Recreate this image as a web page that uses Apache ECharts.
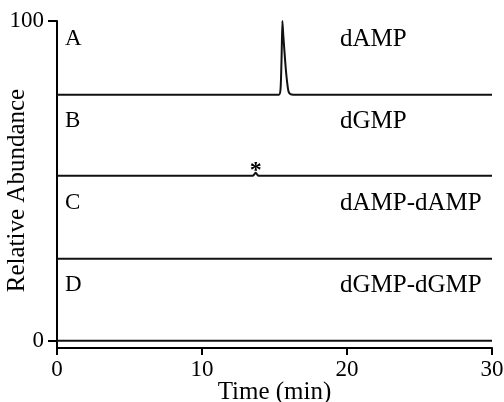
<!DOCTYPE html>
<html>
<head>
<meta charset="utf-8">
<script src="https://cdn.jsdelivr.net/npm/echarts@6/dist/echarts.min.js"></script>
<style>
  html, body { margin: 0; padding: 0; background: #fff; }
  #chart { width: 504px; height: 402px; }
</style>
</head>
<body>
<div id="chart"></div>
<script>
// trace data (time in min, signal above each trace's own baseline)
const timeA = [0, 15.3, 15.42, 15.49, 15.545, 15.6, 15.68, 15.78, 15.88, 15.97, 16.1, 16.3, 30];
const signalA = [0, 0, 2, 12, 23.1, 19, 14, 8, 3.6, 1, 0.2, 0, 0];
const timeB = [0, 13.5, 13.62, 13.7, 13.78, 13.9, 30];
const signalB = [0, 0, 0.5, 0.9, 0.5, 0, 0];
const timeC = [0, 30];
const signalC = [0, 0];
const timeD = [0, 30];
const signalD = [0, 0];
// stacking offsets of the four panels
const offsets = [76.9, 51.6, 25.6, 0];
const panelLetters = ["A", "B", "C", "D"];
const panelNames = ["dAMP", "dGMP", "dAMP-dAMP", "dGMP-dGMP"];
const yTicks = [0, 100];
const asterisk = [13.7, 53.2];

const font = "Liberation Serif";
const chart = echarts.init(document.getElementById("chart"));

function trace(times, values, offset) {
  return times.map((t, i) => [t, values[i] + offset]);
}

const traces = [
  trace(timeA, signalA, offsets[0]),
  trace(timeB, signalB, offsets[1]),
  trace(timeC, signalC, offsets[2]),
  trace(timeD, signalD, offsets[3]),
];

// panel labels
const labelY = [39, 121, 203, 285];
let graphics = [];
panelLetters.forEach((l, i) => {
  graphics.push({
    type: "text", x: 65, y: labelY[i],
    style: { text: l, fontSize: 23, fontFamily: font, fill: "#000", verticalAlign: "middle" },
  });
  graphics.push({
    type: "text", x: 340, y: labelY[i],
    style: { text: panelNames[i], fontSize: 25, fontFamily: font, fill: "#000", verticalAlign: "middle" },
  });
});

const option = {
  animation: false,
  backgroundColor: "#fff",
  grid: { left: 57, right: 12, top: 21, bottom: 54, containLabel: false, outerBoundsMode: "none" },
  xAxis: {
    type: "value",
    min: 0,
    max: 30,
    interval: 10,
    name: "Time (min)",
    nameLocation: "middle",
    nameGap: 32,
    nameMoveOverlap: false,
    nameTextStyle: { fontSize: 25, fontFamily: font, color: "#000" },
    axisLine: { onZero: false, lineStyle: { color: "#000", width: 2 } },
    axisTick: { length: 7, lineStyle: { color: "#000", width: 2 } },
    axisLabel: { fontSize: 23, fontFamily: font, color: "#000", margin: 10 },
    splitLine: { show: false },
  },
  yAxis: {
    type: "value",
    min: -2.3,
    max: 100,
    name: "Relative Abundance",
    nameLocation: "middle",
    nameGap: 27,
    nameMoveOverlap: false,
    nameTextStyle: { fontSize: 25, fontFamily: font, color: "#000", padding: [0, 12, 0, 0] },
    axisLine: { show: true, onZero: false, lineStyle: { color: "#000", width: 2 } },
    axisTick: { show: true, length: 9, customValues: yTicks, lineStyle: { color: "#000", width: 2 } },
    axisLabel: { fontSize: 23, fontFamily: font, color: "#000", margin: 13, customValues: yTicks },
    splitLine: { show: false },
  },
  graphic: graphics,
  series: traces.map((d, i) => ({
    type: "line",
    data: d,
    symbol: "none",
    smooth: 0.2,
    lineStyle: { color: "#111", width: 2 },
    markPoint: i === 1 ? {
      symbol: "circle",
      symbolSize: 0,
      data: [{ coord: asterisk }],
      label: {
        show: true, formatter: "*", position: "inside",
        fontSize: 24, fontWeight: "bold", fontFamily: font, color: "#000",
      },
    } : undefined,
  })),
};
chart.setOption(option);
</script>
</body>
</html>
